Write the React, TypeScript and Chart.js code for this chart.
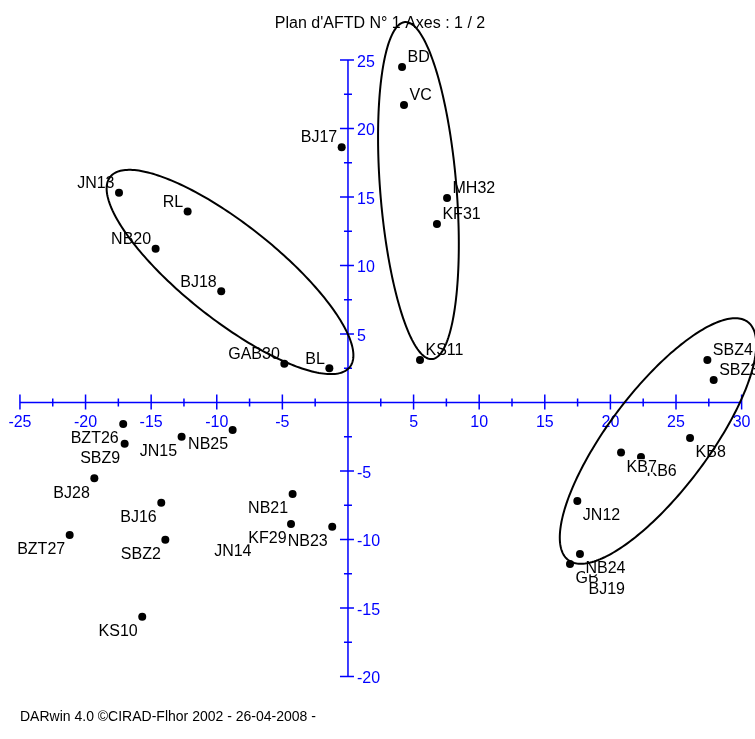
import React, { useEffect, useRef } from "react";
import { Chart, registerables } from "chart.js";

Chart.register(...registerables);

// ---- data ----
const names = [
  "BD", "VC", "MH32", "KF31", "KS11", "SBZ4", "SBZ3",
  "BJ17", "JN13", "RL", "NB20", "BJ18", "GAB30", "BL",
  "BZT26", "SBZ9", "JN15", "NB25", "BJ28", "BJ16", "BZT27", "SBZ2",
  "NB21", "JN14", "KF29", "NB23", "KS10",
  "KB8", "KB6", "KB7", "JN12", "GB", "BJ19", "NB24",
];
const xValues = [
  4.12, 4.27, 7.55, 6.78, 5.49, 27.39, 27.87,
  -0.48, -17.45, -12.22, -14.66, -9.66, -4.85, -1.42,
  -17.13, -17.02, -12.68, -8.79, -19.33, -14.23, -21.21, -13.92,
  -4.22, -7.01, -4.34, -1.2, -15.68,
  26.07, 22.33, 20.81, 17.48, 16.92, 17.91, 17.68,
];
const yValues = [
  24.49, 21.72, 14.93, 13.03, 3.1, 3.1, 1.64,
  18.64, 15.31, 13.95, 11.23, 8.12, 2.83, 2.5,
  -1.57, -3.01, -2.5, -2.01, -5.53, -7.31, -9.67, -10.01,
  -6.68, -9.82, -8.87, -9.07, -15.64,
  -2.59, -3.98, -3.64, -7.19, -11.79, -12.6, -11.06,
];

const xTickValues = [-25, -20, -15, -10, -5, 5, 10, 15, 20, 25, 30];
const yTickValues = [-20, -15, -10, -5, 5, 10, 15, 20, 25];
const xMinorValues = [-22.5, -17.5, -12.5, -7.5, -2.5, 2.5, 7.5, 12.5, 17.5, 22.5, 27.5];
const yMinorValues = [-17.5, -12.5, -7.5, -2.5, 2.5, 7.5, 12.5, 17.5, 22.5];

// ellipses (data units): centre, semi-major vector, semi-minor vector
const ellipseCenterX = [-8.99, 5.37, 23.63];
const ellipseCenterY = [9.53, 15.47, -2.81];
const ellipseMajorX = [9.13, 1.03, 6.84];
const ellipseMajorY = [-6.94, -12.3, 8.69];
const ellipseMinorX = [-2.25, 2.9, 3.045];
const ellipseMinorY = [-2.72, 0.22, -2.2];

const titleText = "Plan d'AFTD N° 1 Axes : 1 / 2";
const footerText = "DARwin 4.0 ©CIRAD-Flhor 2002 - 26-04-2008 -";

const FONT = '"Liberation Sans", Arial, sans-serif';
const BLUE = "#0000ff";

const overlayPlugin = {
  id: "darwinOverlay",
  beforeDatasetsDraw(chart: any) {
    const ctx = chart.ctx as CanvasRenderingContext2D;
    const xs = chart.scales.x;
    const ys = chart.scales.y;
    const ox = xs.getPixelForValue(0);
    const oy = ys.getPixelForValue(0);
    ctx.save();
    // title and footer
    ctx.fillStyle = "#000";
    ctx.font = `16px ${FONT}`;
    ctx.textAlign = "center";
    ctx.textBaseline = "alphabetic";
    ctx.fillText(titleText, 380, 28);
    ctx.font = `14px ${FONT}`;
    ctx.textAlign = "left";
    ctx.fillText(footerText, 20, 721);

    // axes
    ctx.strokeStyle = BLUE;
    ctx.lineWidth = 1.5;
    ctx.beginPath();
    ctx.moveTo(xs.getPixelForValue(xTickValues[0]), oy);
    ctx.lineTo(xs.getPixelForValue(xTickValues[xTickValues.length - 1]), oy);
    ctx.moveTo(ox, ys.getPixelForValue(yTickValues[0]));
    ctx.lineTo(ox, ys.getPixelForValue(yTickValues[yTickValues.length - 1]));
    ctx.stroke();

    ctx.beginPath();
    for (const v of xTickValues) {
      const p = xs.getPixelForValue(v);
      ctx.moveTo(p, oy - 8);
      ctx.lineTo(p, oy + 7);
    }
    for (const v of xMinorValues) {
      const p = xs.getPixelForValue(v);
      ctx.moveTo(p, oy - 4);
      ctx.lineTo(p, oy + 4);
    }
    for (const v of yTickValues) {
      const p = ys.getPixelForValue(v);
      ctx.moveTo(ox - 8, p);
      ctx.lineTo(ox + 6, p);
    }
    for (const v of yMinorValues) {
      const p = ys.getPixelForValue(v);
      ctx.moveTo(ox - 4, p);
      ctx.lineTo(ox + 4, p);
    }
    ctx.stroke();

    ctx.fillStyle = BLUE;
    ctx.font = `16px ${FONT}`;
    ctx.textAlign = "center";
    for (const v of xTickValues) {
      ctx.fillText(String(v), xs.getPixelForValue(v), oy + 24.5);
    }
    ctx.textAlign = "left";
    for (const v of yTickValues) {
      ctx.fillText(String(v), ox + 9, ys.getPixelForValue(v) + 6.5);
    }
    ctx.restore();
  },
  afterDatasetsDraw(chart: any) {
    const ctx = chart.ctx as CanvasRenderingContext2D;
    const xs = chart.scales.x;
    const ys = chart.scales.y;
    ctx.save();
    ctx.font = `16px ${FONT}`;
    ctx.textBaseline = "alphabetic";
    for (let i = 0; i < names.length; i++) {
      const px = xs.getPixelForValue(xValues[i]);
      const py = ys.getPixelForValue(yValues[i]);
      const w = ctx.measureText(names[i]).width;
      const right = xValues[i] >= 0;
      const up = yValues[i] >= 0;
      const left = right ? px + 5.5 : px - 4.5 - w;
      const cy = up ? py - 10.5 : py + 13.5;
      const base = cy + 5.8;
      ctx.fillStyle = "#fff";
      ctx.fillRect(left - 0.5, base - 12.5, w + 1, 13.5);
      ctx.fillStyle = "#000";
      ctx.textAlign = "left";
      ctx.fillText(names[i], left, base);
    }
    // ellipses
    ctx.strokeStyle = "#000";
    ctx.lineWidth = 2;
    for (let e = 0; e < ellipseCenterX.length; e++) {
      ctx.beginPath();
      for (let k = 0; k <= 240; k++) {
        const t = (k / 240) * Math.PI * 2;
        const dx = ellipseCenterX[e] + Math.cos(t) * ellipseMajorX[e] + Math.sin(t) * ellipseMinorX[e];
        const dy = ellipseCenterY[e] + Math.cos(t) * ellipseMajorY[e] + Math.sin(t) * ellipseMinorY[e];
        const qx = xs.getPixelForValue(dx);
        const qy = ys.getPixelForValue(dy);
        if (k === 0) ctx.moveTo(qx, qy);
        else ctx.lineTo(qx, qy);
      }
      ctx.closePath();
      ctx.stroke();
    }
    ctx.restore();
  },
};

export default function App() {
  const ref = useRef<HTMLCanvasElement | null>(null);
  useEffect(() => {
    if (!ref.current) return;
    const chart = new Chart(ref.current, {
      type: "scatter",
      data: {
        datasets: [
          {
            data: xValues.map((x, i) => ({ x, y: yValues[i] })),
            backgroundColor: "#000",
            borderWidth: 0,
            pointRadius: 4,
            pointHoverRadius: 4,
          },
        ],
      },
      options: {
        animation: false,
        responsive: false,
        layout: { padding: 0, autoPadding: false },
        plugins: { legend: { display: false }, tooltip: { enabled: false }, title: { display: false } },
        events: [],
        scales: {
          x: { type: "linear", min: -26.52, max: 31.02, display: false },
          y: { type: "linear", min: -24.56, max: 29.38, display: false },
        },
      },
      plugins: [overlayPlugin],
    } as any);
    return () => chart.destroy();
  }, []);
  return (
    <div style={{ position: "absolute", left: 0, top: 0, width: 755, height: 739, background: "#fff" }}>
      <canvas ref={ref} width={755} height={739} style={{ display: "block", width: 755, height: 739 }} />
    </div>
  );
}
